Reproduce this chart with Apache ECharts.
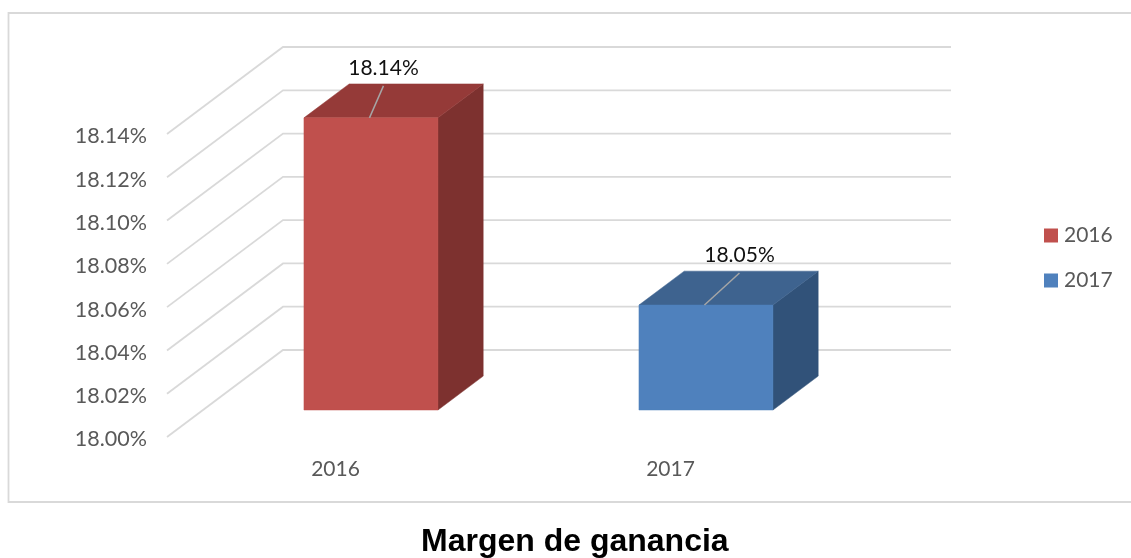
<!DOCTYPE html>
<html>
<head>
<meta charset="utf-8">
<style>html,body{margin:0;padding:0;background:#fff}#c{width:1131px;height:558px}</style>
<script src="https://cdn.jsdelivr.net/npm/echarts@6/dist/echarts.min.js"></script>
</head>
<body>
<div id="c"></div>
<script>
const categories = ['2016', '2017'];
const yTicks = [18.00, 18.02, 18.04, 18.06, 18.08, 18.10, 18.12, 18.14];
const values2016 = [[0, 18.135]];
const values2017 = [[1, 18.0485]];
const labels2016 = ['18.14%'];
const labels2017 = ['18.05%'];
const chartTitle = 'Margen de ganancia';

const DX = 116, DY = -87;          // depth vector of the floor
const NEAR = 0.31, DEEP = 0.39;    // bar position in depth
const FONT = 'Lato, "Open Sans", sans-serif';

function wall(params, api) {
  const v = api.value(0);
  const y = api.coord([0, v])[1];
  const cs = params.coordSys;
  return {
    type: 'polyline', silent: true,
    shape: { points: [[cs.x, y], [cs.x + DX, y + DY], [cs.x + cs.width + DX - 2, y + DY]] },
    style: { stroke: '#D9D9D9', lineWidth: 1.8, fill: null }
  };
}

function bar3d(colors, leader, labels) {
  return function (params, api) {
    const cat = api.value(0), val = api.value(1);
    const base = api.coord([cat, yTicks[0]]);
    const top = api.coord([cat, val]);
    const w = api.size([1, 0])[0] * 0.4;
    const ox = DX * NEAR + 0.5, oy = DY * NEAR;
    const dx = DX * DEEP, dy = DY * DEEP;
    const L = base[0] + ox - w / 2, R = L + w;
    const B = base[1] + oy, T = top[1] + oy;
    const cx = (L + R) / 2 - 1.5;
    const poly = (pts, fill) => ({ type: 'polygon', silent: true, shape: { points: pts }, style: { fill: fill, stroke: fill, lineWidth: 0.5 } });
    return {
      type: 'group',
      children: [
        poly([[R, B], [R + dx, B + dy], [R + dx, T + dy], [R, T]], colors.side),
        poly([[L, T], [L + dx, T + dy], [R + dx, T + dy], [R, T]], colors.top),
        poly([[L, B], [R, B], [R, T], [L, T]], colors.front),
        { type: 'line', silent: true, shape: { x1: cx, y1: T, x2: cx + leader, y2: T - 32 }, style: { stroke: '#A6A6A6', lineWidth: 1.5 } },
        { type: 'text', silent: true, style: { text: labels[params.dataIndex], x: cx + leader, y: T - 50, align: 'center', verticalAlign: 'middle', fill: '#111', font: '21px ' + FONT } }
      ]
    };
  };
}

const chart = echarts.init(document.getElementById('c'), null, { renderer: 'canvas' });
chart.setOption({
  animation: false,
  backgroundColor: '#fff',
  title: {
    text: chartTitle, left: 421, top: 526, padding: 0,
    textStyle: { fontFamily: '"Liberation Sans", Arial, sans-serif', fontWeight: 'bold', fontSize: 32, color: '#000' }
  },
  legend: {
    data: categories, orient: 'vertical', left: 1044, top: 225, padding: 0,
    itemWidth: 14, itemHeight: 14, itemGap: 24, icon: 'rect', selectedMode: false,
    textStyle: { fontFamily: FONT, fontSize: 21, color: '#595959', padding: [0, 0, 0, 1] }
  },
  grid: { left: 167, top: 134, width: 670, height: 303 },
  xAxis: {
    type: 'category', data: categories,
    axisLine: { show: false }, axisTick: { show: false }, splitLine: { show: false },
    axisLabel: { margin: 22, padding: [0, 0, 0, 2], fontFamily: FONT, fontSize: 21, color: '#595959' }
  },
  yAxis: {
    type: 'value', min: 18.00, max: 18.14, interval: 0.02,
    axisLine: { show: false }, axisTick: { show: false }, splitLine: { show: false },
    axisLabel: { margin: 20, verticalAlign: 'top', lineHeight: 5, fontFamily: FONT, fontSize: 21.5, color: '#595959', formatter: v => v.toFixed(2) + '%' }
  },
  graphic: [{
    type: 'rect', silent: true, z: -1,
    shape: { x: 8.5, y: 13, width: 1130, height: 489 },
    style: { fill: '#fff', stroke: '#D9D9D9', lineWidth: 1.8 }
  }],
  series: [
    { type: 'custom', name: 'pared', data: yTicks.map(v => [v]), encode: { y: 0 }, renderItem: wall, clip: false, z: 1 },
    { type: 'custom', name: '2016', data: values2016, encode: { x: 0, y: 1 }, itemStyle: { color: '#C0504D' }, clip: false, z: 2,
      renderItem: bar3d({ front: '#C0504D', side: '#7D312F', top: '#953A38' }, 14, labels2016) },
    { type: 'custom', name: '2017', data: values2017, encode: { x: 0, y: 1 }, itemStyle: { color: '#4F81BD' }, clip: false, z: 2,
      renderItem: bar3d({ front: '#4F81BD', side: '#315279', top: '#3E638F' }, 35, labels2017) }
  ]
});
</script>
</body>
</html>
